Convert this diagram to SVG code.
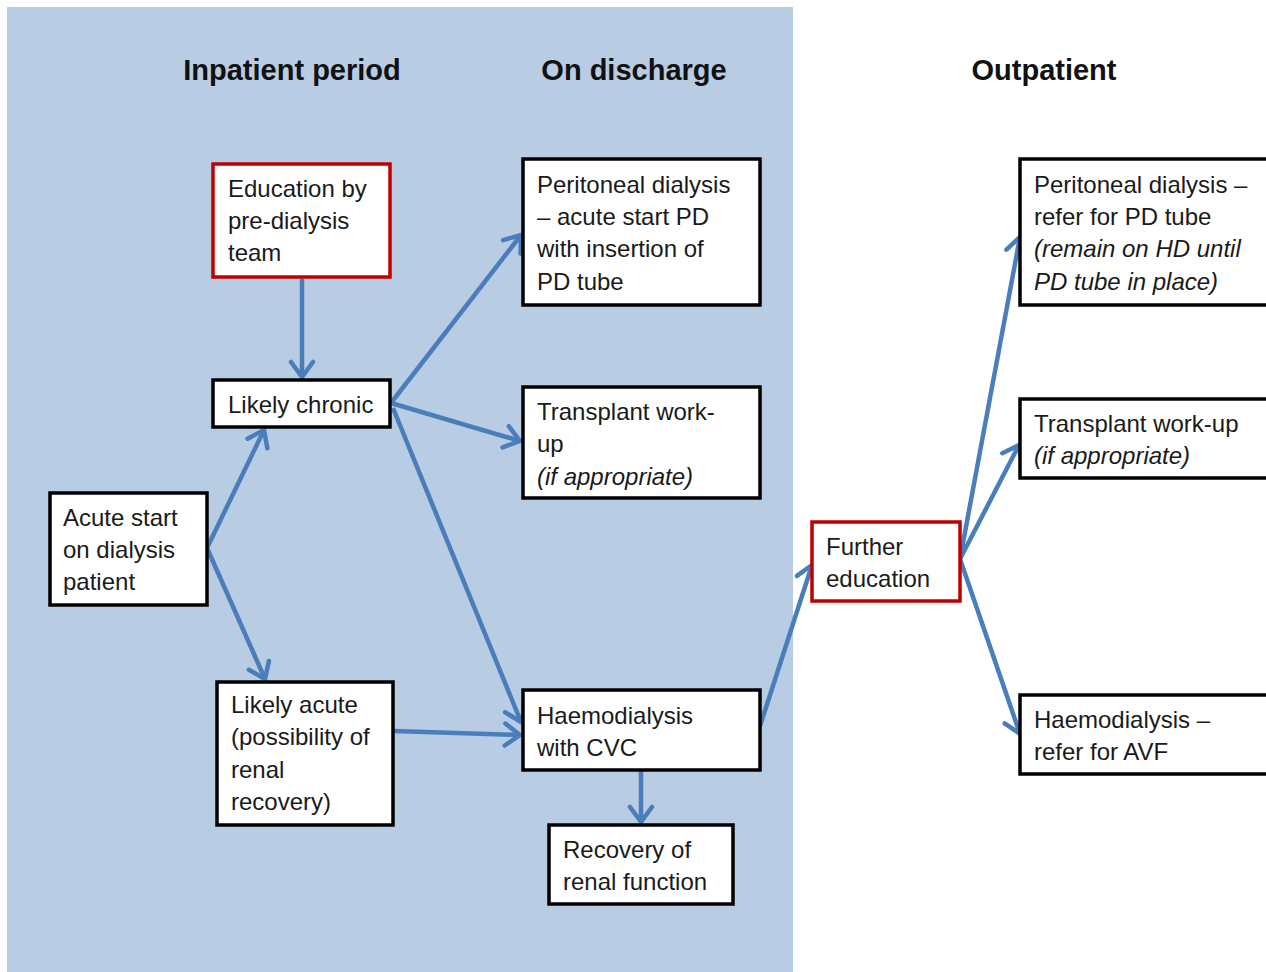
<svg xmlns="http://www.w3.org/2000/svg" width="1266" height="972" viewBox="0 0 1266 972">
<style>
.bg{fill:#b8cce4}
.box{fill:#fff;stroke:#000;stroke-width:3.5}
.red{fill:#fff;stroke:#c00000;stroke-width:3.5}
.t{font-family:"Liberation Sans",Arial,sans-serif;font-size:24px;fill:#1a1a1a}
.i{font-style:italic}
.h{font-family:"Liberation Sans",Arial,sans-serif;font-size:29px;font-weight:bold;fill:#111;text-anchor:middle}
.c{stroke:#4a7ebb;stroke-width:4.5;fill:none;marker-end:url(#ah)}
</style>
<defs>
<marker id="ah" viewBox="0 0 28 28" refX="24" refY="14" markerWidth="28" markerHeight="28" markerUnits="userSpaceOnUse" orient="auto">
<path d="M9,3 L24,14 L9,25" fill="none" stroke="#4a7ebb" stroke-width="4.5" stroke-linecap="round" stroke-linejoin="round"/>
</marker>
</defs>
<rect class="bg" x="7" y="7" width="786" height="965"/>
<g id="headers">
<text class="h" x="292" y="80">Inpatient period</text>
<text class="h" x="634" y="80">On discharge</text>
<text class="h" x="1044" y="80">Outpatient</text>
</g>
<g id="connectors">
<line class="c" x1="302" y1="279" x2="302" y2="377"/>
<line class="c" x1="207" y1="548" x2="264" y2="430"/>
<line class="c" x1="207" y1="548" x2="265" y2="679"/>
<line class="c" x1="391" y1="403" x2="521" y2="235"/>
<line class="c" x1="391" y1="403" x2="520" y2="441"/>
<line class="c" x1="393" y1="408" x2="521" y2="722"/>
<line class="c" x1="394" y1="731" x2="520" y2="735"/>
<line class="c" x1="641" y1="771" x2="641" y2="822"/>
<line class="c" x1="760" y1="726" x2="812" y2="565"/>
<line class="c" x1="960" y1="559" x2="1020" y2="237"/>
<line class="c" x1="960" y1="559" x2="1019" y2="445"/>
<line class="c" x1="960" y1="559" x2="1020" y2="734"/>
</g>
<g id="education">
<rect class="red" x="213" y="164" width="177" height="113"/>
<text class="t" x="228" y="197">Education by</text>
<text class="t" x="228" y="229">pre-dialysis</text>
<text class="t" x="228" y="261">team</text>
</g>
<g id="likely-chronic">
<rect class="box" x="213" y="380" width="177" height="47"/>
<text class="t" x="228" y="413">Likely chronic</text>
</g>
<g id="acute-start">
<rect class="box" x="50" y="493" width="157" height="112"/>
<text class="t" x="63" y="526">Acute start</text>
<text class="t" x="63" y="558">on dialysis</text>
<text class="t" x="63" y="590">patient</text>
</g>
<g id="likely-acute">
<rect class="box" x="217" y="682" width="176" height="143"/>
<text class="t" x="231" y="713">Likely acute</text>
<text class="t" x="231" y="745">(possibility of</text>
<text class="t" x="231" y="778">renal</text>
<text class="t" x="231" y="810">recovery)</text>
</g>
<g id="pd-discharge">
<rect class="box" x="523" y="159" width="237" height="146"/>
<text class="t" x="537" y="193">Peritoneal dialysis</text>
<text class="t" x="537" y="225">– acute start PD</text>
<text class="t" x="537" y="257">with insertion of</text>
<text class="t" x="537" y="290">PD tube</text>
</g>
<g id="transplant-discharge">
<rect class="box" x="523" y="387" width="237" height="111"/>
<text class="t" x="537" y="420">Transplant work-</text>
<text class="t" x="537" y="452">up</text>
<text class="t i" x="537" y="485">(if appropriate)</text>
</g>
<g id="hd-discharge">
<rect class="box" x="523" y="690" width="237" height="80"/>
<text class="t" x="537" y="724">Haemodialysis</text>
<text class="t" x="537" y="756">with CVC</text>
</g>
<g id="recovery">
<rect class="box" x="549" y="825" width="184" height="79"/>
<text class="t" x="563" y="858">Recovery of</text>
<text class="t" x="563" y="890">renal function</text>
</g>
<g id="further-education">
<rect class="red" x="812" y="522" width="148" height="79"/>
<text class="t" x="826" y="555">Further</text>
<text class="t" x="826" y="587">education</text>
</g>
<g id="pd-outpatient">
<rect class="box" x="1020" y="159" width="260" height="146"/>
<text class="t" x="1034" y="193">Peritoneal dialysis –</text>
<text class="t" x="1034" y="225">refer for PD tube</text>
<text class="t i" x="1034" y="257">(remain on HD until</text>
<text class="t i" x="1034" y="290">PD tube in place)</text>
</g>
<g id="transplant-outpatient">
<rect class="box" x="1020" y="399" width="260" height="79"/>
<text class="t" x="1034" y="432">Transplant work-up</text>
<text class="t i" x="1034" y="464">(if appropriate)</text>
</g>
<g id="hd-outpatient">
<rect class="box" x="1020" y="695" width="260" height="79"/>
<text class="t" x="1034" y="728">Haemodialysis –</text>
<text class="t" x="1034" y="760">refer for AVF</text>
</g>
</svg>
